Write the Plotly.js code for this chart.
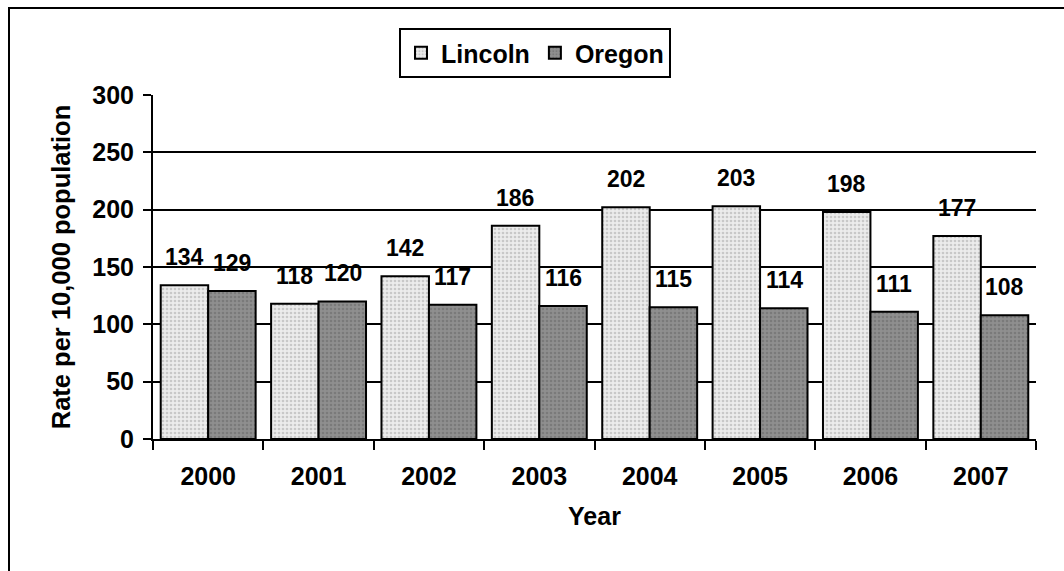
<!DOCTYPE html>
<html>
<head>
<meta charset="utf-8">
<script src="https://cdn.plot.ly/plotly-3.0.1.min.js"></script>
<style>
  html, body { margin: 0; padding: 0; background: #ffffff; }
  #chart { width: 1064px; height: 571px; }
</style>
</head>
<body>
<div id="chart"></div>
<script>
const years = ['2000', '2001', '2002', '2003', '2004', '2005', '2006', '2007'];
const lincoln = [134, 118, 142, 186, 202, 203, 198, 177];
const oregon = [129, 120, 117, 116, 115, 114, 111, 108];
const seriesNames = ['Lincoln', 'Oregon'];
const yTicks = [0, 50, 100, 150, 200, 250, 300];

const W = 1064, H = 571;
const mL = 153, mR = 28, mT = 95, mB = 132;
const pw = W - mL - mR, ph = H - mT - mB;
const px = v => (v - mL) / pw;
const py = v => 1 - (v - mT) / ph;

const ARIAL = 'Arial, "Liberation Sans", sans-serif';
const tickFont = { family: ARIAL, size: 25, color: '#000', weight: 'bold' };
const labelFont = { family: ARIAL, size: 23, color: '#000', weight: 'bold' };

const traces = [
  {
    type: 'bar', name: seriesNames[0], x: years, y: lincoln,
    marker: { color: '#e4e4e4', line: { color: '#000', width: 2 },
      pattern: { shape: '.', fgcolor: '#c8c8c8', bgcolor: '#ececec', size: 4, solidity: 0.35 } },
    hoverinfo: 'x+y'
  },
  {
    type: 'bar', name: seriesNames[1], x: years, y: oregon,
    marker: { color: '#8a8a8a', line: { color: '#000', width: 2 },
      pattern: { shape: '.', fgcolor: '#7a7a7a', bgcolor: '#8f8f8f', size: 4, solidity: 0.35 } },
    hoverinfo: 'x+y'
  }
];

const annotations = [];
years.forEach((yr, i) => {
  annotations.push({ x: i, y: lincoln[i], xref: 'x', yref: 'y', text: String(lincoln[i]),
    showarrow: false, xshift: -24, yshift: 13, yanchor: 'bottom', font: labelFont });
  annotations.push({ x: i, y: oregon[i], xref: 'x', yref: 'y', text: String(oregon[i]),
    showarrow: false, xshift: 24, yshift: 13, yanchor: 'bottom', font: labelFont });
});

const layout = {
  width: W, height: H,
  margin: { l: mL, r: mR, t: mT, b: mB, pad: 0 },
  paper_bgcolor: '#ffffff', plot_bgcolor: '#ffffff',
  barmode: 'group', bargap: 0.14, bargroupgap: 0,
  showlegend: true,
  legend: {
    orientation: 'h', x: px(535), xanchor: 'center', y: py(28), yanchor: 'top',
    bgcolor: '#ffffff', bordercolor: '#000', borderwidth: 2,
    font: { family: ARIAL, size: 25, color: '#000', weight: 'bold' },
    itemwidth: 30, traceorder: 'normal'
  },
  xaxis: {
    type: 'category', categoryorder: 'array', categoryarray: years, range: [-0.5, years.length - 0.5],
    tickson: 'boundaries', ticks: 'outside', ticklen: 9, tickwidth: 2, tickcolor: '#000',
    tickangle: 0, ticklabelstandoff: 14,
    showline: true, linecolor: '#000', linewidth: 2, showgrid: false, zeroline: false,
    tickfont: tickFont,
    title: { text: 'Year', font: { family: ARIAL, size: 25, color: '#000', weight: 'bold' }, standoff: 18 },
    fixedrange: true
  },
  yaxis: {
    range: [0, 300], tickvals: yTicks, ticktext: yTicks.map(String),
    ticks: 'outside', ticklen: 8, tickwidth: 2, tickcolor: '#000', ticklabelstandoff: 4,
    showline: true, linecolor: '#000', linewidth: 2,
    showgrid: true, gridcolor: '#000', gridwidth: 2, zeroline: false,
    tickfont: tickFont,
    title: { text: 'Rate per 10,000 population', font: { family: ARIAL, size: 25.5, color: '#000', weight: 'bold' }, standoff: 14 },
    fixedrange: true
  },
  annotations: annotations,
  shapes: [
    { type: 'rect', xref: 'paper', yref: 'paper', x0: px(9), x1: px(1080), y0: py(590), y1: py(8),
      line: { color: '#000', width: 2 }, fillcolor: 'rgba(0,0,0,0)', layer: 'above' }
  ]
};

Plotly.newPlot('chart', traces, layout, { displayModeBar: false, staticPlot: true });
</script>
</body>
</html>
